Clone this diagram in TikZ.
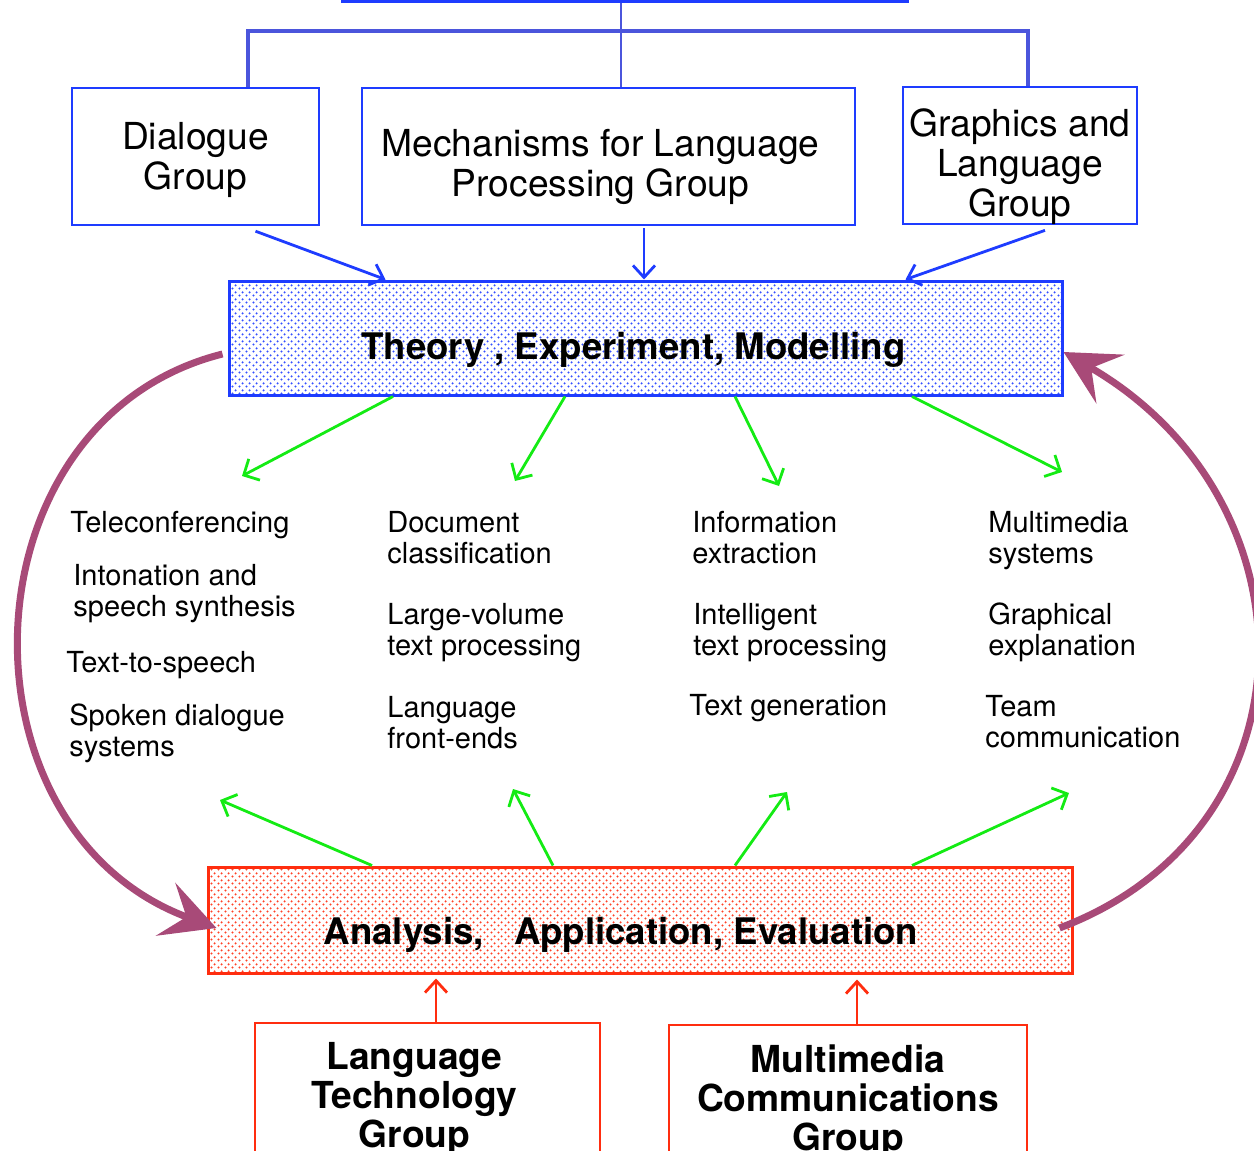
\documentclass[tikz,border=0pt]{standalone}
\usepackage{fontspec}
\setmainfont{TeX Gyre Heros}
\usetikzlibrary{arrows.meta}
\usetikzlibrary{patterns.meta}
\definecolor{grpblue}{RGB}{30,60,255}
\definecolor{treeblue}{RGB}{75,85,220}
\definecolor{arrgreen}{RGB}{20,235,20}
\definecolor{grpred}{RGB}{255,45,15}
\definecolor{cycpurple}{RGB}{168,74,120}
\tikzdeclarepattern{
  name=stagdots,
  type=uncolored,
  bounding box={(0pt,0pt) and (3.5pt,3.5pt)},
  tile size={(3.5pt,3.5pt)},
  code={
    \fill (0.875pt,0.875pt) circle (0.65pt);
    \fill (2.625pt,2.625pt) circle (0.65pt);
  }
}
\tikzset{dgp/.style={
  x=0.5pt,
  y=-0.5pt
}}
\tikzset{grn/.style={
  draw=grpblue,
  line width=1.2pt,
  align=center,
  inner sep=0pt,
  font=\fontsize{18.6}{20}\selectfont,
}}
\tikzset{rgn/.style={
  draw=grpred,
  line width=1.2pt,
  align=center,
  inner sep=0pt,
  font=\bfseries\fontsize{18.6}{19.5}\selectfont,
}}
\tikzset{bnd/.style={
  line width=1.5pt,
  inner sep=0pt,
  text depth=0pt,
  font=\bfseries\fontsize{18.3}{20}\selectfont,
}}
\tikzset{thn/.style={bnd,draw=grpblue,pattern=stagdots,pattern color=grpblue!90}}
\tikzset{ann/.style={bnd,draw=grpred,pattern=stagdots,pattern color=grpred!90}}
\tikzset{itm/.style={anchor=west,align=left,inner sep=0pt,font=\fontsize{14.5}{15.5}\selectfont}}
\tikzset{bla/.style={draw=grpblue,line width=1.4pt,-{Straight Barb[length=6pt,width=11pt]}}}
\tikzset{gra/.style={draw=arrgreen,line width=1.4pt,-{Straight Barb[length=6pt,width=12pt]}}}
\tikzset{rda/.style={draw=grpred,line width=1.4pt,-{Straight Barb[length=6pt,width=11pt]}}}
\tikzset{cyc/.style={draw=cycpurple,line width=3.5pt,-{Stealth[length=27pt,width=28pt,inset=11pt]}}}
\tikzset{trt/.style={draw=treeblue,line width=1.4pt}}
\tikzset{trk/.style={draw=treeblue,line width=2.3pt}}

\begin{document}
\begin{tikzpicture}[dgp]
  \useasboundingbox (0,0) rectangle (1254,1151);
  % Top groups
  \node[draw=grpblue,line width=3pt,minimum width=281pt,minimum height=60pt] (root) at (625,-60) {};
  \node[grn,minimum width=123.5pt,minimum height=68.5pt,text height=37.4pt] (dlg) at (195.5,156.5) {Dialogue\\Group};
  \node[grn,minimum width=246.5pt,minimum height=68.5pt,text height=44.4pt] (mch) at (608.5,156.5)
    {\hspace*{-8pt}Mechanisms for Language\\\hspace*{-8pt}Processing Group};
  \node[grn,minimum width=117pt,minimum height=67.5pt,text height=64.6pt] (gfx) at (1020,155.5) {Graphics and\\Language\\Group};
  \draw[trt] ([xshift=-2pt]root.south) -- ([xshift=-2pt]root.south |- mch.north);
  \draw[trk] ([xshift=26.25pt]dlg.north) -- ++(0,-56) -| ([xshift=4pt]gfx.north);
  % Bands
  \node[thn,minimum width=416.5pt,minimum height=57pt,text height=21.8pt] (thy) at (645.5,338)
    {\hspace*{-12pt}Theory , Experiment, Modelling};
  \node[ann,minimum width=432pt,minimum height=53pt,text height=24pt] (ana) at (640,920)
    {\hspace*{-19pt}Analysis,\hspace{10pt} Application, Evaluation};
  \draw[bla] ([xshift=30pt,yshift=-2.5pt]dlg.south) -- ([xshift=-130pt]thy.north);
  \draw[bla] ([xshift=17.75pt,yshift=-1pt]mch.south) -- ([xshift=-0.75pt]thy.north);
  \draw[bla] ([xshift=12.5pt,yshift=-2.5pt]gfx.south) -- ([xshift=130pt]thy.north);
  % Topics
  \node[itm] (tel) at (70,525) {Teleconferencing};
  \node[itm] (ito) at (73,593.5) {Intonation and\\speech synthesis};
  \node[itm] (tts) at (66,665) {Text-to-speech};
  \node[itm] (sdl) at (69,733) {Spoken dialogue\\systems};
  \node[itm] (dcl) at (387,537.5) {Document\\classification};
  \node[itm] (lvt) at (387,632.5) {Large-volume\\text processing};
  \node[itm] (lfe) at (387,722.5) {Language\\front-ends};
  \node[itm] (iex) at (692,537.5) {Information\\extraction};
  \node[itm] (itp) at (693,632.5) {Intelligent\\text processing};
  \node[itm] (tgn) at (689,708) {Text generation};
  \node[itm] (mms) at (988,540.5) {Multimedia\\systems};
  \node[itm] (gex) at (988,632.5) {Graphical\\explanation};
  \node[itm] (tcm) at (985,721.5) {Team\\communication};
  \coordinate (ta1) at (242,476);
  \coordinate (ta2) at (515,481);
  \coordinate (ta3) at (779,486);
  \coordinate (ta4) at (1062,472);
  \coordinate (ba1) at (220,800);
  \coordinate (ba2) at (513,789);
  \coordinate (ba3) at (787,792);
  \coordinate (ba4) at (1069,793);
  \draw[gra] ([xshift=-126.25pt]thy.south) -- (ta1);
  \draw[gra] ([xshift=-40.25pt]thy.south) -- (ta2);
  \draw[gra] ([xshift=44.75pt]thy.south) -- (ta3);
  \draw[gra] ([xshift=133.25pt]thy.south) -- (ta4);
  \draw[gra] ([xshift=-134pt]ana.north) -- (ba1);
  \draw[gra] ([xshift=-43.5pt]ana.north) -- (ba2);
  \draw[gra] ([xshift=47.5pt]ana.north) -- (ba3);
  \draw[gra] ([xshift=136pt]ana.north) -- (ba4);
  % Bottom groups
  \node[rgn,minimum width=172.5pt,minimum height=70pt,text height=58.6pt] (ltg) at (427.5,1093)
    {\hspace*{-13pt}Language\\\hspace*{-13pt}Technology\\\hspace*{-13pt}Group};
  \node[rgn,minimum width=179pt,minimum height=72pt,text height=57.6pt] (mcg) at (848,1097) {Multimedia\\Communications\\Group};
  \draw[rda] ([xshift=4.25pt]ltg.north) -- ([xshift=4.25pt,yshift=-2pt]ltg.north |- ana.south);
  \draw[rda] ([xshift=4.5pt]mcg.north) -- ([xshift=4.5pt,yshift=-2.5pt]mcg.north |- ana.south);
  % Cycle
  \draw[cyc] ([xshift=-2.5pt,yshift=-8pt]thy.west) .. controls (-40,420) and (-50,830) .. ([xshift=5pt,yshift=-4pt]ana.west);
  \draw[cyc] ([xshift=-7pt,yshift=-4pt]ana.east) .. controls (1320,830) and (1320,500) .. ([yshift=-7pt]thy.east);
\end{tikzpicture}
\end{document}
